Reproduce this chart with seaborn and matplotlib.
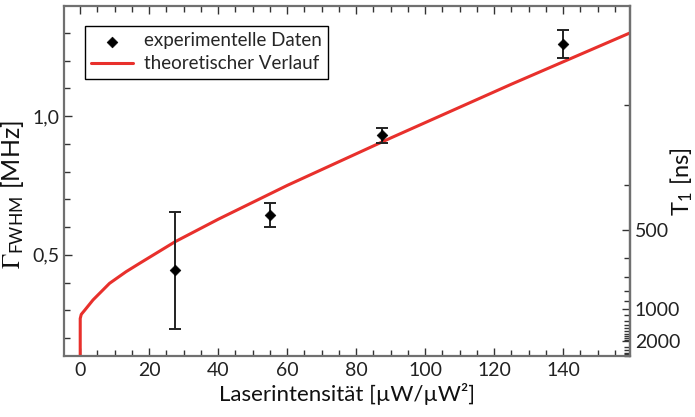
import numpy as np
import pandas as pd
import matplotlib
matplotlib.use("Agg")
import matplotlib.pyplot as plt
from matplotlib.ticker import MultipleLocator, FixedLocator, FuncFormatter, NullFormatter
import seaborn as sns

# ---- data ----
exp_x = [27.5, 55.0, 87.5, 140.0]
exp_y = [0.444, 0.643, 0.931, 1.259]
exp_err = [0.211, 0.043, 0.027, 0.050]

theo_x = [0.0, 0.0, 0.3, 1.3, 3.7, 8.5, 13.3, 17.2, 27.5, 40.0, 60.0, 90.0, 125.0, 159.4]
theo_y = [0.10, 0.27, 0.285, 0.30, 0.337, 0.397, 0.439, 0.469, 0.547, 0.628, 0.75, 0.921, 1.115, 1.30]

x_ticks = [0, 20, 40, 60, 80, 100, 120, 140]
y_ticks = [0.5, 1.0]
t1_major = [500, 1000, 2000]
t1_minor = [300, 400, 600, 700, 800, 900, 1100, 1200, 1300, 1400, 1500, 1600,
            1700, 1800, 1900, 2500, 3000, 3500, 4000, 4500]

# secondary-axis scale (Gamma [MHz] <-> T1 [ns])
SC_U, SC_P, SC_B = 0.195, 1.3, 0.109


def gamma_to_t1(g):
    g = np.asarray(g, dtype=float)
    d = np.maximum(g - SC_B, 1e-6)
    return 1000.0 * (d / SC_U) ** (-1.0 / SC_P)


def t1_to_gamma(t):
    t = np.maximum(np.asarray(t, dtype=float), 1e-6)
    return SC_U * (1000.0 / t) ** SC_P + SC_B


sns.set_style("ticks")
plt.rcParams['font.family'] = ['Lato', 'DejaVu Sans']
plt.rcParams['mathtext.fontset'] = 'stix'

fig = plt.figure(figsize=(6.95, 4.17), dpi=100)
ax = fig.add_axes([0.0921, 0.1463, 0.8144, 0.8393])

red = '#e8302c'
theo = pd.DataFrame({'x': theo_x, 'y': theo_y})
sns.lineplot(data=theo, x='x', y='y', sort=False, estimator=None, color=red,
             linewidth=2.2, ax=ax, label='theoretischer Verlauf', zorder=2)

ax.errorbar(exp_x, exp_y, yerr=exp_err, fmt='none', ecolor='#222222',
            elinewidth=1.4, capsize=4, capthick=1.4, zorder=3)
exp = pd.DataFrame({'x': exp_x, 'y': exp_y})
sns.scatterplot(data=exp, x='x', y='y', marker='D', s=30, color='black',
                edgecolor='black', ax=ax, label='experimentelle Daten', zorder=4)

ax.set_xlim(-4.7, 159.4)
ax.set_ylim(0.135, 1.397)

ax.xaxis.set_major_locator(FixedLocator(x_ticks))
ax.xaxis.set_minor_locator(MultipleLocator(5))
ax.yaxis.set_major_locator(FixedLocator(y_ticks))
ax.yaxis.set_minor_locator(MultipleLocator(0.1))
ax.yaxis.set_major_formatter(FuncFormatter(lambda v, p: f"{v:.1f}".replace('.', ',')))

spine_col = '#707070'
for s in ax.spines.values():
    s.set_color(spine_col)
    s.set_linewidth(1.6)
ax.tick_params(which='both', direction='in', top=True, right=False, colors='#333333',
               labelcolor='#222222', labelsize=14)
ax.tick_params(which='major', length=6, width=1.0)
ax.tick_params(which='minor', length=4, width=1.0)
ax.tick_params(axis='x', pad=4)

ax.set_xlabel('Laserintensität [µW/µW²]', fontsize=16, labelpad=3, color='#111111')
ax.set_ylabel(r'$\Gamma_{\mathregular{FWHM}}$ [MHz]', fontsize=18, color='#111111')
ax.yaxis.set_label_coords(-0.067, 0.46)

sec = ax.secondary_yaxis('right', functions=(gamma_to_t1, t1_to_gamma))
sec.yaxis.set_major_locator(FixedLocator(t1_major))
sec.yaxis.set_minor_locator(FixedLocator(t1_minor))
sec.yaxis.set_minor_formatter(NullFormatter())
sec.yaxis.set_major_formatter(FuncFormatter(lambda v, p: f"{v:.0f}"))
sec.spines['right'].set_color(spine_col)
sec.spines['right'].set_linewidth(1.6)
sec.tick_params(which='both', direction='in', colors='#333333', labelcolor='#222222',
                labelsize=14)
sec.tick_params(which='major', length=6, width=1.0)
sec.tick_params(which='minor', length=4, width=1.0)
fig.text(682 / 695, 1 - 182 / 417, r'T$_{\mathregular{1}}$ [ns]', fontsize=17,
         rotation=90, ha='center', va='center', color='#111111')

handles, labels = ax.get_legend_handles_labels()
order = [labels.index('experimentelle Daten'), labels.index('theoretischer Verlauf')]
leg = ax.legend([handles[i] for i in order], [labels[i] for i in order],
                loc='upper left', bbox_to_anchor=(0.02, 0.97), fontsize=13.5,
                frameon=True, fancybox=False, edgecolor='black', framealpha=1,
                handlelength=2.2, borderpad=0.35, labelspacing=0.3, handletextpad=0.6)
leg.get_frame().set_linewidth(1.0)

fig.savefig('out.png', dpi=100)
